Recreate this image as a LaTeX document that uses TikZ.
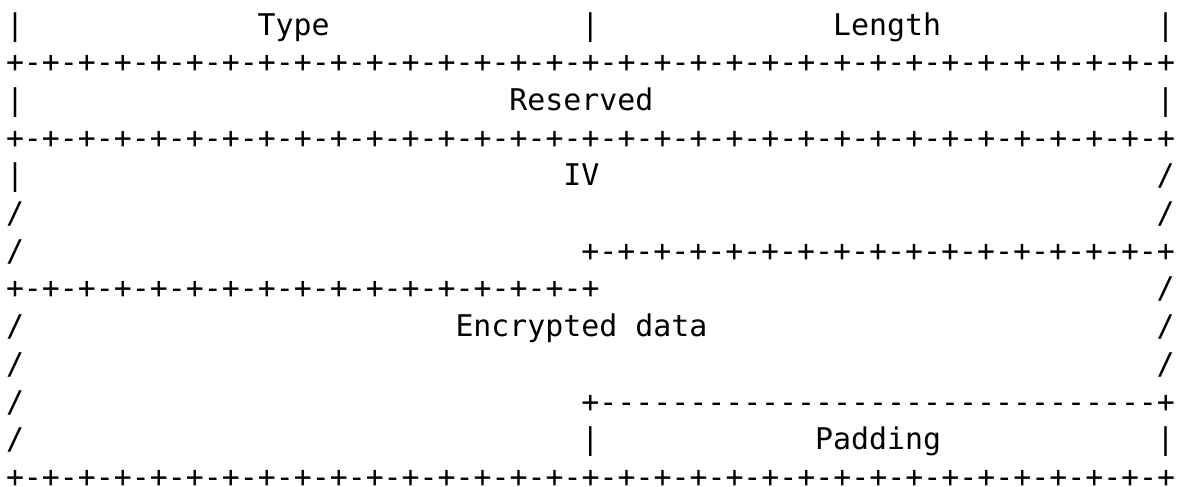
\documentclass[tikz,border=0pt]{standalone}
\usepackage{fontspec}
\setmonofont{DejaVu Sans Mono}
\usepackage{tikz}

% eight "+-" bit marks and ten dashes
\newcommand{\bitpairs}{+-+-+-+-+-+-+-+-}
\newcommand{\tendash}{----------}

\tikzset{
  cell/.style={anchor=base west, inner sep=0pt, outer sep=0pt,
    font=\ttfamily\fontsize{14.94pt}{18pt}\selectfont}
}

\begin{document}
\begin{tikzpicture}[x=8.99pt, y=-18.85pt]
\useasboundingbox (0pt,0pt) rectangle (591.5pt,-243.5pt);
\begin{scope}[shift={(3pt,-17.5pt)}]
% Type / Length
\node[cell] (typeL) at (0,0) {|};
\node[cell] (type) at (14,0) {Type};
\node[cell] (typeM) at (32,0) {|};
\node[cell] (length) at (46,0) {Length};
\node[cell] (typeR) at (64,0) {|};
\node[cell] (sepA) at (0,1) {\bitpairs\bitpairs\bitpairs\bitpairs+};

% Reserved
\node[cell] (resL) at (0,2) {|};
\node[cell] (reserved) at (28,2) {Reserved};
\node[cell] (resR) at (64,2) {|};
\node[cell] (sepB) at (0,3) {\bitpairs\bitpairs\bitpairs\bitpairs+};

% IV (variable length)
\node[cell] (ivL) at (0,4) {|};
\node[cell] (iv) at (31,4) {IV};
\node[cell] (ivR) at (64,4) {/};
\node[cell] (ivL2) at (0,5) {/};
\node[cell] (ivR2) at (64,5) {/};
\node[cell] (ivL3) at (0,6) {/};
\node[cell] (sepC) at (32,6) {\bitpairs\bitpairs+};
\node[cell] (sepD) at (0,7) {\bitpairs\bitpairs+};
\node[cell] (encR1) at (64,7) {/};

% Encrypted data
\node[cell] (encL1) at (0,8) {/};
\node[cell] (encdata) at (25,8) {Encrypted data};
\node[cell] (encR2) at (64,8) {/};
\node[cell] (encL2) at (0,9) {/};
\node[cell] (encR3) at (64,9) {/};
\node[cell] (encL3) at (0,10) {/};
\node[cell] (sepE) at (32,10) {+\tendash\tendash\tendash-+};

% Padding
\node[cell] (encL4) at (0,11) {/};
\node[cell] (padL) at (32,11) {|};
\node[cell] (padding) at (45,11) {Padding};
\node[cell] (padR) at (64,11) {|};
\node[cell] (sepF) at (0,12) {\bitpairs\bitpairs\bitpairs\bitpairs+};
\end{scope}
\end{tikzpicture}
\end{document}
